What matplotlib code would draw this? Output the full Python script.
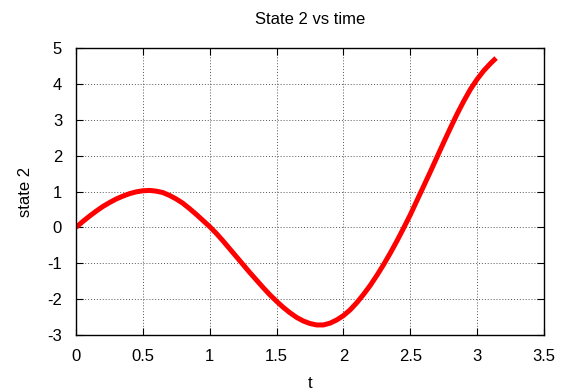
import matplotlib
matplotlib.use('Agg')
import matplotlib.pyplot as plt

# values
t = [0.00, 0.05, 0.10, 0.15, 0.20, 0.25, 0.30, 0.35, 0.40, 0.45, 0.50, 0.55,
     0.60, 0.65, 0.70, 0.75, 0.80, 0.85, 0.90, 0.95, 1.00, 1.05, 1.10, 1.15,
     1.20, 1.25, 1.30, 1.35, 1.40, 1.45, 1.50, 1.55, 1.60, 1.65, 1.70, 1.75,
     1.80, 1.85, 1.90, 1.95, 2.00, 2.05, 2.10, 2.15, 2.20, 2.25, 2.30, 2.35,
     2.40, 2.45, 2.50, 2.55, 2.60, 2.65, 2.70, 2.75, 2.80, 2.85, 2.90, 2.95,
     3.00, 3.05, 3.10, 3.1416]
state2 = [0.00, 0.16, 0.31, 0.45, 0.58, 0.69, 0.79, 0.87, 0.94, 0.99, 1.02, 1.03,
          1.01, 0.97, 0.89, 0.79, 0.67, 0.52, 0.36, 0.19, 0.02, -0.17, -0.38, -0.60,
          -0.82, -1.04, -1.26, -1.47, -1.68, -1.88, -2.06, -2.23, -2.38, -2.51, -2.61, -2.68,
          -2.72, -2.72, -2.67, -2.58, -2.46, -2.30, -2.10, -1.87, -1.62, -1.34, -1.04, -0.72,
          -0.38, -0.02, 0.35, 0.75, 1.15, 1.55, 1.96, 2.37, 2.77, 3.16, 3.52, 3.85,
          4.13, 4.37, 4.57, 4.72]

xticks = [0, 0.5, 1, 1.5, 2, 2.5, 3, 3.5]
xticklabels = ['0', '0.5', '1', '1.5', '2', '2.5', '3', '3.5']
yticks = [-3, -2, -1, 0, 1, 2, 3, 4, 5]

plt.rcParams['font.family'] = ['Liberation Sans', 'DejaVu Sans']
plt.rcParams['axes.unicode_minus'] = False

fig = plt.figure(figsize=(5.63, 3.91), dpi=100)
ax = fig.add_axes([76 / 563, 1 - 335 / 391, 468 / 563, 287 / 391])

ax.plot(t, state2, color='#ff0000', linewidth=3.6, solid_capstyle='butt',
        solid_joinstyle='round')

ax.set_xlim(0, 3.5)
ax.set_ylim(-3, 5)
ax.set_xticks(xticks)
ax.set_xticklabels(xticklabels)
ax.set_yticks(yticks)
ax.tick_params(direction='in', length=5, width=0.8, top=True, right=True,
               labelsize=12, colors='black')
ax.tick_params(axis='x', pad=10)
ax.tick_params(axis='y', pad=10)
ax.grid(True, linestyle=(0, (1, 2)), color='#555555', linewidth=0.7)
for s in ax.spines.values():
    s.set_linewidth(1.0)

ax.set_title('State 2 vs time', fontsize=12, pad=17)
ax.set_xlabel('t', fontsize=12, labelpad=9)
ax.set_ylabel('state 2', fontsize=12, labelpad=10)

fig.savefig('out.png', dpi=100)
